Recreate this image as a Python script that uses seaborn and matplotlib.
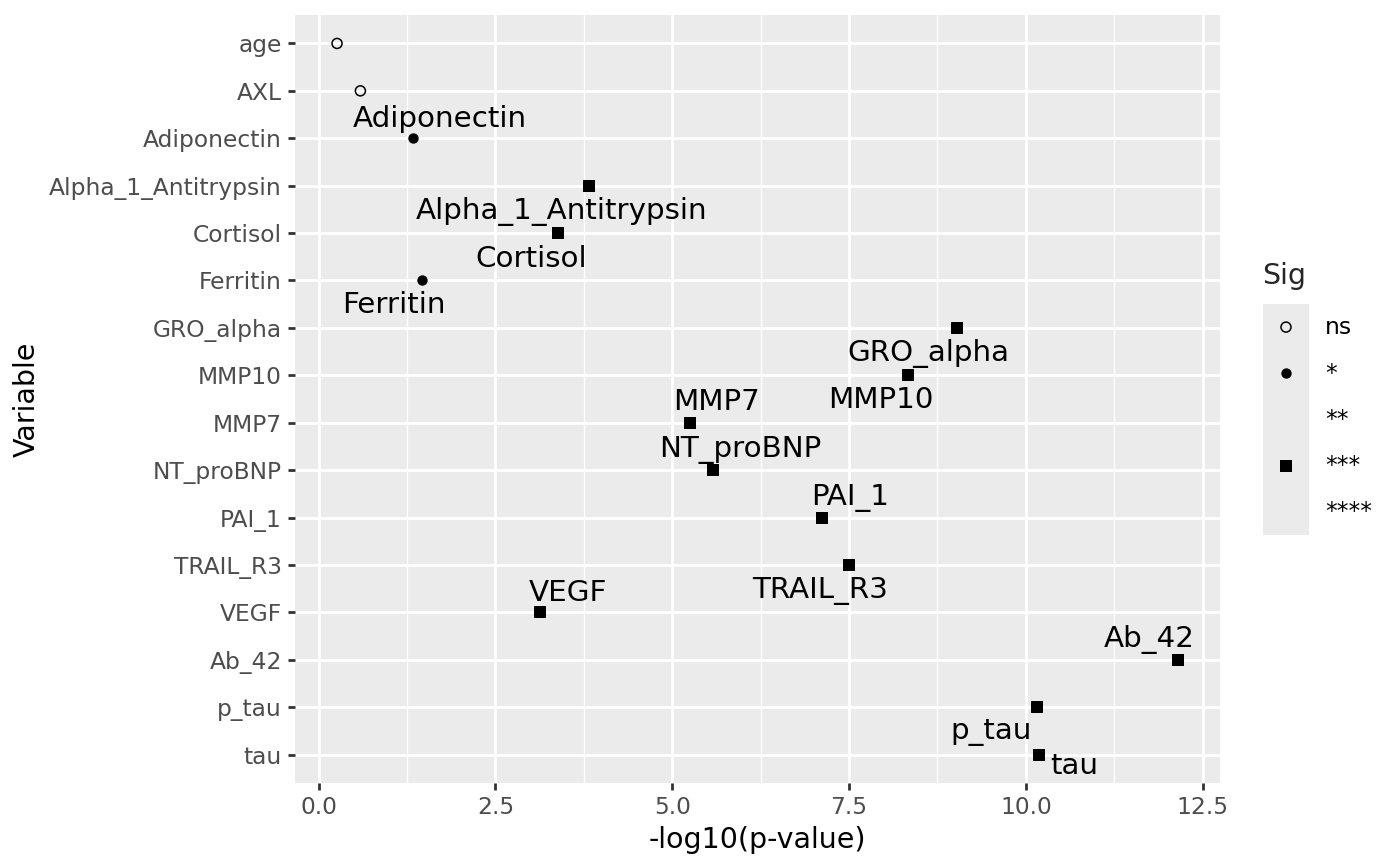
import numpy as np
import pandas as pd
import matplotlib
matplotlib.use("Agg")
import matplotlib.pyplot as plt
import seaborn as sns

# data
variables = ["age", "AXL", "Adiponectin", "Alpha_1_Antitrypsin", "Cortisol",
             "Ferritin", "GRO_alpha", "MMP10", "MMP7", "NT_proBNP", "PAI_1",
             "TRAIL_R3", "VEGF", "Ab_42", "p_tau", "tau"]
neg_log_p = [0.26, 0.59, 1.33, 3.82, 3.38, 1.46, 9.02, 8.34, 5.25, 5.58,
             7.12, 7.50, 3.13, 12.15, 10.15, 10.18]
sig = ["ns", "ns", "*", "***", "***", "*", "***", "***", "***", "***",
       "***", "***", "***", "***", "***", "***"]
sig_levels = ["ns", "*", "**", "***", "****"]
x_ticks = [0.0, 2.5, 5.0, 7.5, 10.0, 12.5]

# ---- styling ----
# label offsets (pixels from point, dy downwards), like ggrepel placed them
label_nudge = {
    "Adiponectin": (27, -11), "Alpha_1_Antitrypsin": (-27, 33),
    "Cortisol": (-27, 34), "Ferritin": (-28, 33), "GRO_alpha": (-28, 33),
    "MMP10": (-28, 33), "MMP7": (27, -13), "NT_proBNP": (27, -13),
    "PAI_1": (28, -13), "TRAIL_R3": (-29, 33), "VEGF": (28, -11),
    "Ab_42": (-29, -13), "p_tau": (-45, 32), "tau": (36, 19),
}
# marker for each level: (marker, filled, size)
shape_map = {"ns": ("o", False, 52), "*": ("o", True, 56),
             "**": (None, True, 0), "***": ("s", True, 63), "****": (None, True, 0)}

df = pd.DataFrame({"Variable": variables, "p": neg_log_p, "Sig": sig})
df["ypos"] = np.arange(len(df))

sns.set_theme(style="darkgrid", rc={
    "axes.facecolor": "#EBEBEB", "grid.color": "white",
    "xtick.color": "#333333", "ytick.color": "#333333",
    "xtick.labelcolor": "#4D4D4D", "ytick.labelcolor": "#4D4D4D",
})
plt.rcParams["font.family"] = ["DejaVu Sans"]

W, H = 1400, 866
fig = plt.figure(figsize=(W / 100, H / 100), dpi=100)
ax = fig.add_axes([295 / W, 1 - 783 / H, (1220 - 295) / W, (783 - 15) / H])

for level in sig_levels:
    marker, filled, size = shape_map[level]
    sub = df[df["Sig"] == level]
    if marker is None or sub.empty:
        continue
    if filled:
        sns.scatterplot(data=sub, x="p", y="ypos", marker=marker, s=size,
                        color="black", linewidth=0, ax=ax, legend=False, zorder=3)
    else:
        sns.scatterplot(data=sub, x="p", y="ypos", marker=marker, s=size,
                        facecolors="none", edgecolor="black", linewidth=1.1,
                        ax=ax, legend=False, zorder=3)

for _, row in df.iterrows():
    if row["Variable"] not in label_nudge:
        continue
    dx, dy = label_nudge[row["Variable"]]
    ax.annotate(row["Variable"], (row["p"], row["ypos"]), xytext=(dx, -dy),
                textcoords="offset pixels", ha="center", va="baseline",
                fontsize=21.2, color="black", zorder=4)

lo, hi = min(neg_log_p), max(neg_log_p)
pad = 0.05 * (hi - lo)
ax.set_xlim(lo - pad, hi + pad)
ax.set_ylim(len(variables) - 0.4, -0.6)

ax.set_xticks(x_ticks)
ax.set_xticklabels([f"{t:.1f}" for t in x_ticks])
ax.set_xticks([(a + b) / 2 for a, b in zip(x_ticks[:-1], x_ticks[1:])], minor=True)
ax.set_yticks(df["ypos"])
ax.set_yticklabels(variables)

ax.grid(which="major", color="white", linewidth=2.0)
ax.grid(which="minor", axis="x", color="white", linewidth=1.0)
ax.grid(which="minor", axis="y", visible=False)
ax.tick_params(which="major", length=5.2, width=2.0, pad=4.2, labelsize=16.8,
               left=True, bottom=True)
ax.tick_params(which="minor", length=0)
for sp in ax.spines.values():
    sp.set_visible(False)

ax.set_xlabel("-log10(p-value)", fontsize=20.5, color="black", labelpad=5)
ax.set_ylabel("Variable", fontsize=20.5, color="black", labelpad=6)

# legend drawn by hand, ggplot style
key_top, key_h, key_left, key_w = 304, 46.2, 1263, 46
lax = fig.add_axes([key_left / W, 1 - (key_top + key_h * len(sig_levels)) / H,
                    key_w / W, key_h * len(sig_levels) / H])
lax.set_facecolor("#EBEBEB")
lax.set_xlim(0, 1)
lax.set_ylim(len(sig_levels), 0)
lax.set_xticks([])
lax.set_yticks([])
lax.grid(False)
for sp in lax.spines.values():
    sp.set_visible(False)
for i, level in enumerate(sig_levels):
    marker, filled, size = shape_map[level]
    if marker is not None:
        if filled:
            lax.scatter([0.5], [i + 0.5], marker=marker, s=size, color="black",
                        linewidth=0)
        else:
            lax.scatter([0.5], [i + 0.5], marker=marker, s=size,
                        facecolors="none", edgecolors="black", linewidth=1.1)
    fig.text(1325 / W, 1 - (key_top + key_h * (i + 0.5)) / H, level,
             fontsize=16.8, va="center", ha="left", color="black")
fig.text(1262 / W, 1 - 276 / H, "Sig", fontsize=20.5, va="center", ha="left")

fig.savefig("out.png", dpi=100, facecolor="white")
